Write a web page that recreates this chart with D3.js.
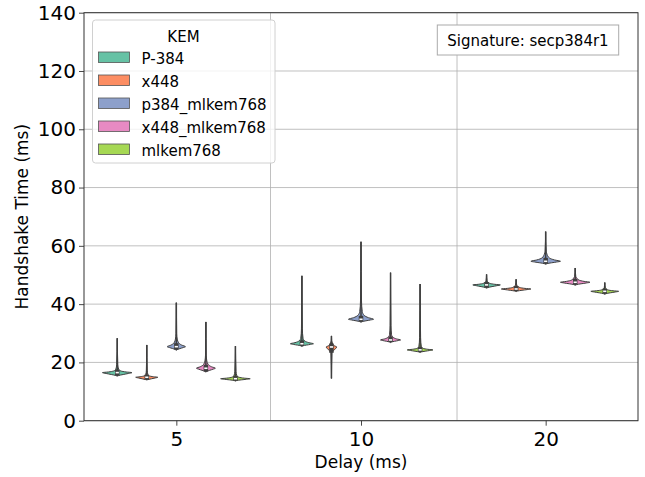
<!DOCTYPE html>
<html>
<head>
<meta charset="utf-8">
<script src="https://cdn.jsdelivr.net/npm/d3@7"></script>
<style>
  body { margin: 0; background: #fff; }
  text { font-family: "DejaVu Sans", sans-serif; fill: #000; }
</style>
</head>
<body>
<div id="chart"></div>
<script>
// categories
const delays = ["5", "10", "20"];
const kems = ["P-384", "x448", "p384_mlkem768", "x448_mlkem768", "mlkem768"];
const colors = ["#66c2a5", "#fc8d62", "#8da0cb", "#e78ac3", "#a6d854"];
const yTicks = [0, 20, 40, 60, 80, 100, 120, 140];
const separators = [0.51, 1.52];

// per KEM, one value per delay (5, 10, 20 ms)
const minVals = [
  [15.3, 25.5, 45.5],
  [14.0, 14.5, 44.3],
  [24.2, 33.8, 53.7],
  [16.7, 26.8, 46.5],
  [13.6, 23.4, 43.4]
];
const bodyLoVals = [
  [15.5, 25.7, 45.7],
  [14.1, 23.3, 44.5],
  [24.4, 34.0, 53.9],
  [16.9, 27.0, 46.7],
  [13.8, 23.6, 43.6]
];
const peakVals = [
  [16.5, 26.4, 46.6],
  [14.9, 25.3, 45.2],
  [25.4, 34.8, 54.7],
  [18.0, 27.7, 47.5],
  [14.4, 24.3, 44.4]
];
const bodyHiVals = [
  [17.6, 28.3, 47.6],
  [15.8, 27.1, 46.2],
  [28.0, 37.5, 57.0],
  [20.5, 29.5, 49.0],
  [15.4, 25.3, 45.3]
];
const maxVals = [
  [28.3, 49.7, 50.2],
  [26.0, 29.1, 48.5],
  [40.5, 61.4, 64.9],
  [33.9, 50.8, 52.4],
  [25.6, 46.9, 47.4]
];
// relative density width of each violin
const widthVals = [
  [1.0, 0.78, 0.93],
  [0.75, 0.36, 1.0],
  [0.62, 0.85, 1.0],
  [0.64, 0.68, 1.0],
  [1.0, 0.87, 0.94]
];

const margin = { top: 12.7, right: 7, bottom: 56.3, left: 84 },
    width = 645 - margin.left - margin.right,
    height = 477 - margin.top - margin.bottom;

const svg = d3.select("#chart")
    .append("svg")
    .attr("width", 645)
    .attr("height", 477)
    .append("g")
    .attr("transform", `translate(${margin.left},${margin.top})`);

const x = d3.scaleLinear().domain([-0.5, 2.5]).range([0, width]);
const y = d3.scaleLinear().domain([0, 140]).range([height, 0]);

// hue dodge inside each category
const dodge = d3.scaleBand().domain(kems).range([-0.4, 0.4]);
const slot = x(dodge.bandwidth()) - x(0);

// grid
svg.append("g").selectAll("line")
    .data(yTicks)
    .enter().append("line")
    .attr("x1", 0).attr("x2", width)
    .attr("y1", d => y(d)).attr("y2", d => y(d))
    .attr("stroke", "#b0b0b0").attr("stroke-width", 0.8);

svg.append("g").selectAll("line")
    .data(separators)
    .enter().append("line")
    .attr("x1", d => x(d)).attr("x2", d => x(d))
    .attr("y1", 0).attr("y2", height)
    .attr("stroke", "#b0b0b0").attr("stroke-width", 0.8);

// axes
const yAxis = svg.append("g")
    .call(d3.axisLeft(y).tickValues(yTicks).tickSize(5).tickPadding(3));
const xAxis = svg.append("g")
    .attr("transform", `translate(0,${height})`)
    .call(d3.axisBottom(x).tickValues([0, 1, 2]).tickFormat(i => delays[i]).tickSize(5).tickPadding(6));
[yAxis, xAxis].forEach(a => {
  a.select(".domain").remove();
  a.selectAll(".tick line").attr("stroke", "#333").attr("stroke-width", 0.9);
  a.selectAll(".tick text").style("font-size", "20px").attr("fill", "#000");
});

// violins
const area = d3.area()
    .y(d => y(d[0]))
    .x0(d => -d[1] * slot / 2)
    .x1(d => d[1] * slot / 2)
    .curve(d3.curveMonotoneY);

kems.forEach((kem, k) => {
  delays.forEach((delay, i) => {
    const cx = x(i + dodge(kem) + dodge.bandwidth() / 2);
    const w = widthVals[k][i];
    const lo = minVals[k][i], blo = bodyLoVals[k][i], pk = peakVals[k][i],
        bhi = bodyHiVals[k][i], hi = maxVals[k][i];
    const profile = [
      [lo, 0], [blo, 0.1 * w], [pk - (pk - blo) * 0.3, 0.75 * w], [pk, w],
      [pk + (bhi - pk) * 0.2, 0.6 * w], [pk + (bhi - pk) * 0.5, 0.25 * w],
      [bhi, 0.1 * w], [bhi + (hi - bhi) * 0.15, 0.04 * w], [hi, 0]
    ];
    const g = svg.append("g").attr("transform", `translate(${cx},0)`);
    g.append("path")
        .datum(profile)
        .attr("d", area)
        .attr("fill", colors[k])
        .attr("stroke", "#3f3f3f")
        .attr("stroke-width", 1);
    // inner box
    g.append("line")
        .attr("y1", y(lo)).attr("y2", y(hi))
        .attr("stroke", "#3f3f3f").attr("stroke-width", 1.5);
    g.append("line")
        .attr("y1", y(blo)).attr("y2", y(Math.min(bhi, pk + 1.2)))
        .attr("stroke", "#3f3f3f").attr("stroke-width", 4.5);
    g.append("rect")
        .attr("x", -1.6).attr("y", y(pk) - 0.8)
        .attr("width", 3.2).attr("height", 1.6)
        .attr("fill", "#fff");
  });
});

// frame
svg.append("rect")
    .attr("width", width).attr("height", height)
    .attr("fill", "none").attr("stroke", "#333").attr("stroke-width", 1);

// axis labels
svg.append("text")
    .attr("x", width / 2).attr("y", height + 47)
    .attr("text-anchor", "middle")
    .style("font-size", "17px")
    .text("Delay (ms)");
svg.append("text")
    .attr("transform", `translate(${-margin.left + 28},${height / 2}) rotate(-90)`)
    .attr("text-anchor", "middle")
    .style("font-size", "17px")
    .text("Handshake Time (ms)");

// legend
const legend = svg.append("g").attr("transform", "translate(8.5,7.3)");
legend.append("rect")
    .attr("width", 182.5).attr("height", 143).attr("rx", 3)
    .attr("fill", "#fff").attr("fill-opacity", 0.8)
    .attr("stroke", "#d0d0d0").attr("stroke-width", 1);
legend.append("text")
    .attr("x", 91).attr("y", 21.5)
    .attr("text-anchor", "middle")
    .style("font-size", "15px")
    .text("KEM");
kems.forEach((kem, k) => {
  legend.append("rect")
      .attr("x", 6).attr("y", 32 + k * 23)
      .attr("width", 31).attr("height", 10.5)
      .attr("fill", colors[k]).attr("stroke", "#555").attr("stroke-width", 0.8);
  legend.append("text")
      .attr("x", 49).attr("y", 43.5 + k * 23)
      .style("font-size", "15px")
      .text(kem);
});

// signature box
const sig = svg.append("g").attr("transform", `translate(${width - 200.7},12.3)`);
sig.append("rect")
    .attr("width", 181.4).attr("height", 30)
    .attr("fill", "#fff").attr("stroke", "#aaa").attr("stroke-width", 1);
sig.append("text")
    .attr("x", 90.7).attr("y", 21)
    .attr("text-anchor", "middle")
    .style("font-size", "15px")
    .text("Signature: secp384r1");
</script>
</body>
</html>
